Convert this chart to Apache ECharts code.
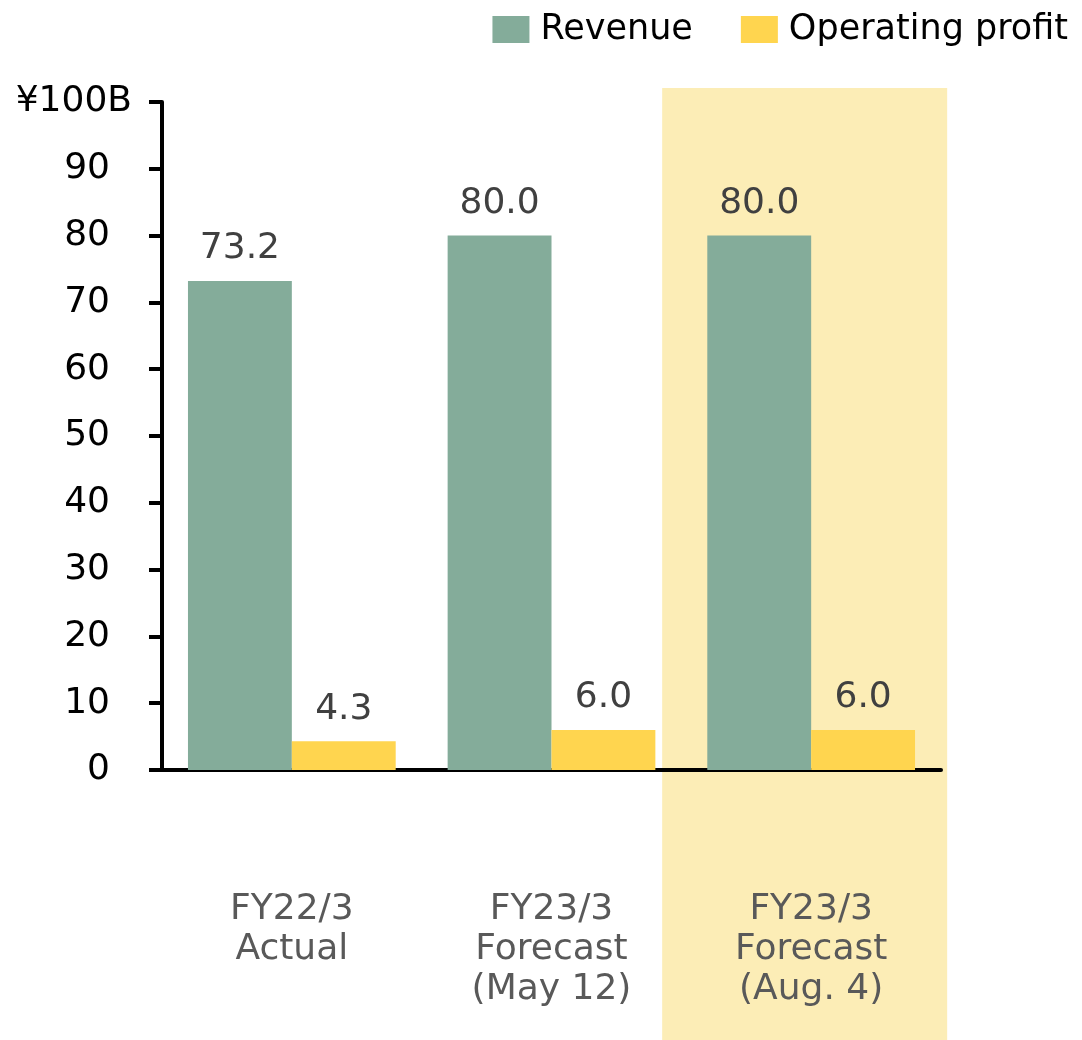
<!DOCTYPE html>
<html lang="en">
<head>
    <meta charset="UTF-8">
    <title>Revenue and operating profit</title>
    <script src="https://cdn.jsdelivr.net/npm/echarts@6/dist/echarts.min.js"></script>
</head>
<style>
    html, body { margin: 0; padding: 0; background: #fff; }
    #zhuzhuangtu { width: 1082px; height: 1040px; }
</style>
<body>
<div id="zhuzhuangtu"></div>
<script>
    var categories = ['FY22/3\nActual', 'FY23/3\nForecast\n(May 12)', 'FY23/3\nForecast\n(Aug. 4)'];
    var revenue = [73.2, 80.0, 80.0];
    var operatingProfit = [4.3, 6.0, 6.0];
    var highlightIndex = 2;
    var font = 'DejaVu Sans';

    var chart = echarts.init(document.getElementById('zhuzhuangtu'));
    var option = {
        animation: false,
        textStyle: { fontFamily: font },
        legend: {
            right: 9,
            top: 7,
            itemWidth: 37,
            itemHeight: 27,
            itemGap: 48,
            icon: 'rect',
            textStyle: { fontSize: 35, color: '#000', fontFamily: font, padding: [0, 0, 0, 6] },
            data: ['Revenue', 'Operating profit']
        },
        grid: { left: 162, right: 141, top: 102, bottom: 270 },
        xAxis: {
            type: 'category',
            data: categories,
            axisLine: { lineStyle: { color: '#000', width: 4 } },
            axisTick: { show: false },
            axisLabel: {
                interval: 0,
                color: '#595959',
                fontSize: 36,
                lineHeight: 40,
                margin: 120,
                fontFamily: font
            }
        },
        yAxis: {
            type: 'value',
            min: 0,
            max: 100,
            interval: 10,
            splitLine: { show: false },
            axisLine: { show: true, lineStyle: { color: '#000', width: 4 } },
            axisTick: { show: true, length: 13, lineStyle: { color: '#000', width: 4 } },
            axisLabel: {
                margin: 30,
                color: '#000',
                fontSize: 36,
                fontFamily: font,
                formatter: function (v) {
                    return v === 100 ? '{u|¥100B}' : '{n|' + v + '}';
                },
                rich: {
                    u: { fontSize: 36, color: '#000', fontFamily: font },
                    n: { fontSize: 36, color: '#000', fontFamily: font, padding: [0, 22, 0, 0] }
                }
            }
        },
        series: [
            {
                name: 'Revenue',
                type: 'bar',
                barGap: '0%',
                barCategoryGap: '20%',
                itemStyle: { color: '#84AC9A' },
                label: {
                    show: true, position: 'top', distance: 14,
                    color: '#404040', fontSize: 36, fontFamily: font,
                    formatter: function (p) { return p.value.toFixed(1); }
                },
                data: revenue
            },
            {
                name: 'Operating profit',
                type: 'bar',
                barGap: '0%',
                barCategoryGap: '20%',
                itemStyle: { color: '#FFD54F' },
                label: {
                    show: true, position: 'top', distance: 14,
                    color: '#404040', fontSize: 36, fontFamily: font,
                    formatter: function (p) { return p.value.toFixed(1); }
                },
                data: operatingProfit
            }
        ]
    };
    chart.setOption(option);

    // 背景高亮 (third category)
    var cx = chart.convertToPixel({ xAxisIndex: 0 }, highlightIndex);
    chart.setOption({
        graphic: [{
            type: 'rect',
            z: -10,
            silent: true,
            shape: { x: cx - 149, y: 88, width: 285, height: 1040 - 88 },
            style: { fill: '#FCEDB6' }
        }]
    });
</script>
</body>
</html>
